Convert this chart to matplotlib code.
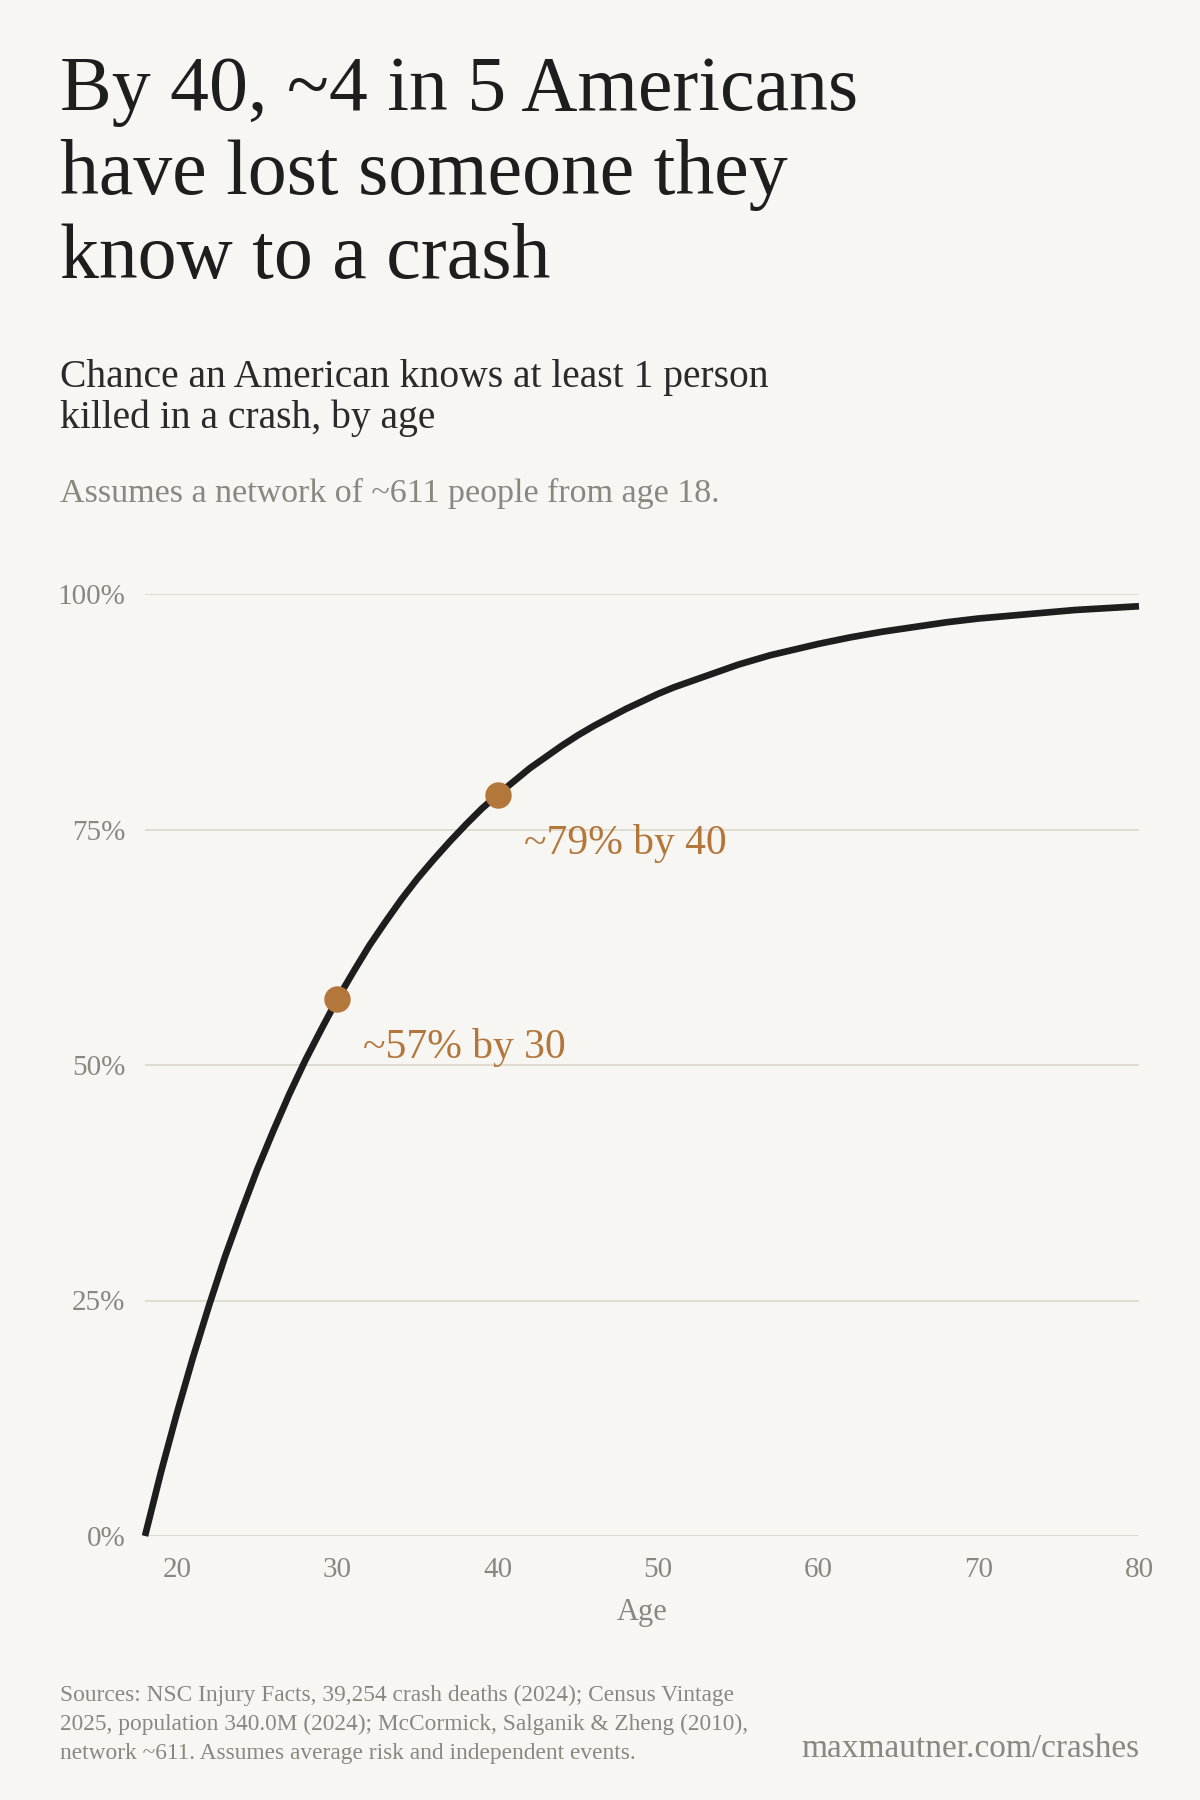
import matplotlib.pyplot as plt
from matplotlib.ticker import FuncFormatter

# values (share knowing >=1 person killed, by age)
ages = list(range(18, 60)) + [60, 62, 64, 66, 68, 70, 72, 74, 76, 78, 80]
share = [0.000, 0.068, 0.131, 0.190, 0.245, 0.297, 0.344, 0.389, 0.430, 0.469,
         0.505, 0.538, 0.570, 0.599, 0.627, 0.652, 0.676, 0.698, 0.718, 0.737,
         0.755, 0.772, 0.787, 0.801, 0.815, 0.827, 0.839, 0.850, 0.860, 0.869,
         0.878, 0.886, 0.894, 0.901, 0.907, 0.913, 0.919, 0.925, 0.930, 0.935,
         0.939, 0.943,
         0.947, 0.954, 0.960, 0.965, 0.970, 0.974, 0.977, 0.980, 0.983, 0.985, 0.987]

marker_ages = [30, 40]
marker_vals = [0.57, 0.787]
marker_labels = ['~57% by 30', '~79% by 40']

y_ticks = [0, 0.25, 0.5, 0.75, 1.0]
x_ticks = [20, 30, 40, 50, 60, 70, 80]

bg = '#f7f6f2'
ink = '#1e1e1e'
grey = '#8a8780'
accent = '#b3763b'
grid_col = '#dcd7cc'
serif = ['Liberation Serif', 'DejaVu Serif']

plt.rcParams['font.family'] = serif

fig = plt.figure(figsize=(12, 18), dpi=100, facecolor=bg)

# axes placed to match the reference: x 145..1139 px, y 594..1536 px
ax = fig.add_axes([145 / 1200, 1 - 1536 / 1800, (1139 - 145) / 1200, (1536 - 594) / 1800])
ax.set_facecolor(bg)

ax.plot(ages, share, color=ink, linewidth=4.8, solid_capstyle='butt',
        solid_joinstyle='round', clip_on=False, zorder=3)
ax.plot(marker_ages, marker_vals, 'o', color=accent, markersize=18, zorder=4, clip_on=False)
for a, v, lab in zip(marker_ages, marker_vals, marker_labels):
    ax.annotate(lab, (a, v), xytext=(26, -59), textcoords='offset pixels',
                color=accent, fontsize=30, va='baseline', ha='left')

ax.set_xlim(18, 80)
ax.set_ylim(0, 1)
ax.set_xticks(x_ticks)
ax.set_yticks(y_ticks)
ax.yaxis.set_major_formatter(FuncFormatter(lambda v, p: f'{v * 100:.0f}%'))
ax.grid(axis='y', color=grid_col, linewidth=1.2)
ax.grid(axis='x', visible=False)
ax.set_axisbelow(True)
for s in ax.spines.values():
    s.set_visible(False)
ax.tick_params(length=0, labelsize=21, labelcolor=grey)
ax.tick_params(axis='y', pad=14)
ax.tick_params(axis='x', pad=15)
ax.set_xlabel('Age', fontsize=22, color=grey, labelpad=11)

# header
title_lines = ['By 40, ~4 in 5 Americans', 'have lost someone they', 'know to a crash']
for i, line in enumerate(title_lines):
    fig.text(60 / 1200, 1 - (110 + 84 * i) / 1800, line, fontsize=56, color=ink, va='baseline')

fig.text(60 / 1200, 1 - 387 / 1800, 'Chance an American knows at least 1 person',
         fontsize=28.5, color='#2a2a2a', va='baseline')
fig.text(60 / 1200, 1 - 428 / 1800, 'killed in a crash, by age',
         fontsize=28.5, color='#2a2a2a', va='baseline')
fig.text(60 / 1200, 1 - 502 / 1800, 'Assumes a network of ~611 people from age 18.',
         fontsize=24.5, color=grey, va='baseline')

# footer
source_lines = ['Sources: NSC Injury Facts, 39,254 crash deaths (2024); Census Vintage',
                '2025, population 340.0M (2024); McCormick, Salganik & Zheng (2010),',
                'network ~611. Assumes average risk and independent events.']
for i, line in enumerate(source_lines):
    fig.text(60 / 1200, 1 - (1701 + 29 * i) / 1800, line, fontsize=16.8, color=grey, va='baseline')
fig.text(1139 / 1200, 1 - 1757 / 1800, 'maxmautner.com/crashes', fontsize=24, color=grey,
         va='baseline', ha='right')

fig.savefig('out.png', dpi=100, facecolor=bg)
